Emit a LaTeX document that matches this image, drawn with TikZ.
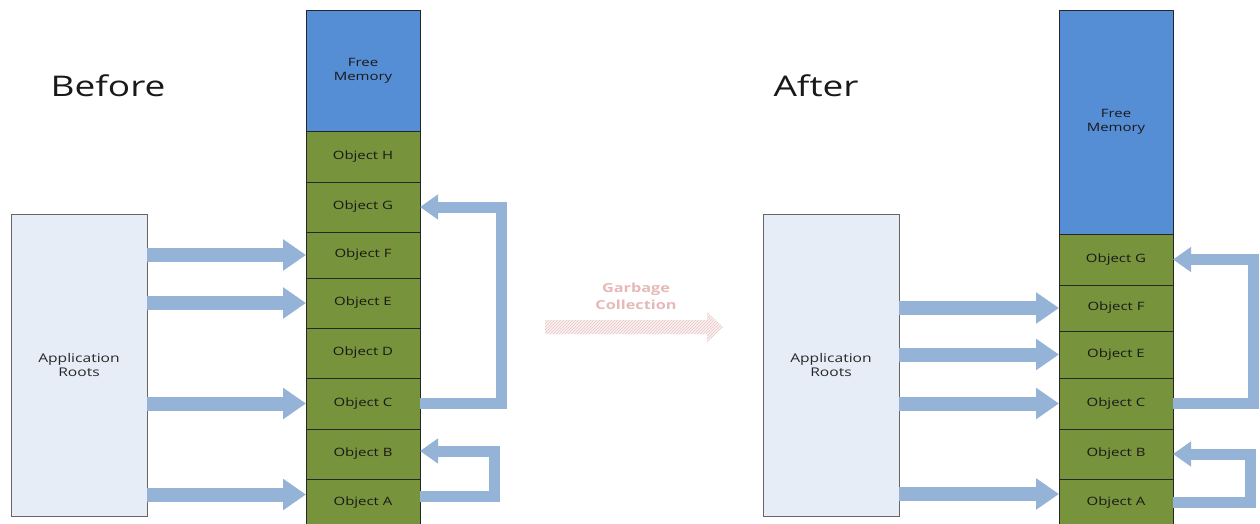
\documentclass[tikz,border=0pt]{standalone}
\usepackage{fontspec}
\setmainfont{Open Sans}[FakeStretch=1.3]
\usetikzlibrary{arrows.meta,patterns}

\definecolor{freeblue}{HTML}{558ED5}
\definecolor{objgreen}{HTML}{77933C}
\definecolor{linkblue}{HTML}{95B3D7}
\definecolor{rootfill}{HTML}{E7EDF7}
\definecolor{gcpink}{HTML}{E6B9B8}

\tikzset{
  cell/.style={draw=black!85, line width=0.6pt, fill=objgreen, inner sep=0pt, outer sep=0pt,
    minimum width=114pt, align=center, text=black!90,
    font=\fontsize{11.5}{14}\selectfont},
  freecell/.style={cell, fill=freeblue},
  roots/.style={draw=black!60, line width=0.8pt, fill=rootfill, inner sep=0pt, outer sep=0pt,
    minimum width=136pt, minimum height=302pt, align=center, text=black!85,
    font=\fontsize{12}{14}\selectfont},
  ref/.style={draw=linkblue, line width=14pt, -{Triangle[width=30pt,length=23pt]}},
  loopref/.style={draw=linkblue, line width=11pt, line join=miter, -{Triangle[width=24pt,length=18pt]}},
  title/.style={font=\fontsize{28.5}{32}\selectfont, text=black!90},
}

\begin{document}
\begin{tikzpicture}[x=1pt,y=-1pt]
\useasboundingbox (0,0) rectangle (1260,524);
\fill[white] (0,0) rectangle (1260,524);

% ---------- before collection ----------
\node[title] (before) at (108,86) {Before};

\node[freecell, minimum height=121pt] (lFree) at (363,70.5) {Free\\Memory};
\node[cell, minimum height=51pt] (lH) at (363,156.5) {Object H};
\node[cell, minimum height=50pt] (lG) at (363,207) {Object G};
\node[cell, minimum height=46pt] (lF) at (363,255) {Object F};
\node[cell, minimum height=50pt] (lE) at (363,303) {Object E};
\node[cell, minimum height=50pt] (lD) at (363,353) {Object D};
\node[cell, minimum height=51pt] (lC) at (363,403.5) {Object C};
\node[cell, minimum height=50pt] (lB) at (363,454) {Object B};
\node[cell, minimum height=47pt] (lA) at (363,502.5) {Object A};

\node[roots] (lRoots) at (79,365) {Application\\Roots};

\coordinate (lAin) at ([yshift=8pt]lA.west);
\draw[ref] (lRoots.east |- lF.west) -- (lF.west);
\draw[ref] (lRoots.east |- lE.west) -- (lE.west);
\draw[ref] (lRoots.east |- lC.west) -- (lC.west);
\draw[ref] (lRoots.east |- lAin) -- (lAin);

\draw[loopref] (lC.east) -- ++(81pt,0) |- (lG.east);
\draw[loopref] ([yshift=6pt]lA.east) -- ++(74pt,0) |- ([yshift=3pt]lB.east);

% ---------- collection step ----------
\node[text=gcpink, font=\bfseries\fontsize{12.5}{17}\selectfont, align=center] (gc) at (636,296.5) {Garbage\\Collection};
\fill[gcpink!20] (545,320) -- (707,320) -- (707,312) -- (723,327) -- (707,342) -- (707,334) -- (545,334) -- cycle;
\fill[pattern=north east lines, pattern color=gcpink!80] (545,320) -- (707,320) -- (707,312) -- (723,327) -- (707,342) -- (707,334) -- (545,334) -- cycle;

% ---------- after collection ----------
\node[title] (after) at (816,86) {After};

\node[freecell, minimum height=224pt] (rFree) at (1116,122) {Free\\Memory};
\node[cell, minimum height=51pt] (rG) at (1116,259.5) {Object G};
\node[cell, minimum height=46pt] (rF) at (1116,308) {Object F};
\node[cell, minimum height=47pt] (rE) at (1116,354.5) {Object E};
\node[cell, minimum height=51pt] (rC) at (1116,403.5) {Object C};
\node[cell, minimum height=50pt] (rB) at (1116,454) {Object B};
\node[cell, minimum height=47pt] (rA) at (1116,502.5) {Object A};

\node[roots] (rRoots) at (831,365) {Application\\Roots};

\coordinate (rAin) at ([yshift=8.5pt]rA.west);
\draw[ref] (rRoots.east |- rF.west) -- (rF.west);
\draw[ref] (rRoots.east |- rE.west) -- (rE.west);
\draw[ref] (rRoots.east |- rC.west) -- (rC.west);
\draw[ref] (rRoots.east |- rAin) -- (rAin);

\draw[loopref] (rC.east) -- ++(80pt,0) |- (rG.east);
\draw[loopref] (rA.east) -- ++(77pt,0) |- (rB.east);
\end{tikzpicture}
\end{document}
